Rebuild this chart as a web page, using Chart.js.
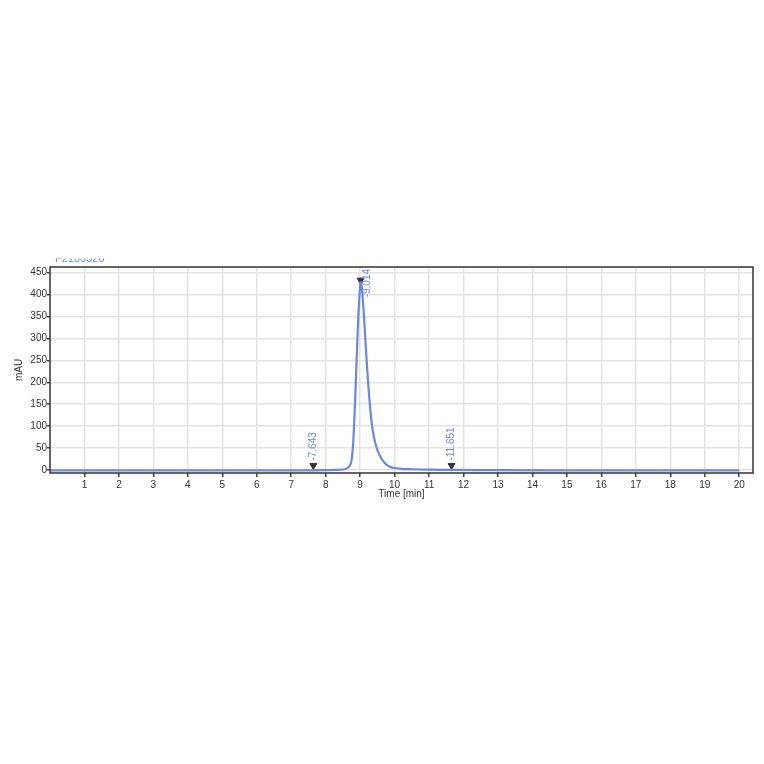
<!DOCTYPE html>
<html>
<head>
<meta charset="utf-8">
<script src="https://cdn.jsdelivr.net/npm/chart.js@4/dist/chart.umd.min.js"></script>
<style>
  html, body { margin: 0; padding: 0; background: #fff; }
  #wrap { width: 764px; height: 764px; }
</style>
</head>
<body>
<div id="wrap"><canvas id="chromChart"></canvas></div>
<script>
// chromatogram trace
var timeMin = [0, 2, 4, 6, 7, 7.643, 8.0, 8.3, 8.5, 8.6, 8.7, 8.75, 8.8, 8.85, 8.9, 8.95, 9.0, 9.014, 9.05, 9.1, 9.15, 9.2, 9.27, 9.35, 9.42, 9.48, 9.55, 9.64, 9.75, 9.85, 9.95, 10.2, 10.5, 11, 11.651, 13, 16, 20];
var signalMAU = [-1, -1, -1, -1, -1, -1, -0.5, 0, 1, 3, 10, 22, 65, 150, 255, 355, 422, 428, 415, 365, 300, 235, 160, 98, 68, 50, 36, 23, 13, 8, 5, 2.5, 1.5, 0.5, 0, -0.5, -1, -1];

// peak markers
var peakTimes = [7.643, 9.014, 11.651];
var peakMarkY = [10, 433, 10];
var peakLabels = ["7.643", "9.014", "11.651"];

var yTicks = [0, 50, 100, 150, 200, 250, 300, 350, 400, 450];
var xTicks = [1, 2, 3, 4, 5, 6, 7, 8, 9, 10, 11, 12, 13, 14, 15, 16, 17, 18, 19, 20];

var sampleName = "F2100320";
var traceColor = "#6b88e0";
var fontFam = "'Liberation Sans', Arial, sans-serif";

var trace = timeMin.map(function (t, i) { return { x: t, y: signalMAU[i] }; });
var marks = peakTimes.map(function (t, i) { return { x: t, y: peakMarkY[i] }; });

// frame, peak labels and the clipped sample name
var decorPlugin = {
    id: "decor",
    afterDraw: function (chart) {
        var ctx = chart.ctx;
        var area = chart.chartArea;
        var xs = chart.scales.x, ys = chart.scales.y;

        ctx.save();
        ctx.strokeStyle = "#333";
        ctx.lineWidth = 1.5;
        ctx.strokeRect(area.left, area.top, area.right - area.left, area.bottom - area.top);
        ctx.restore();

        ctx.save();
        ctx.font = "10px " + fontFam;
        ctx.fillStyle = traceColor;
        ctx.textBaseline = "middle";
        for (var i = 0; i < peakTimes.length; i++) {
            var px = xs.getPixelForValue(peakTimes[i]);
            var py = ys.getPixelForValue(peakMarkY[i]);
            var txt = "-" + peakLabels[i];
            var w = ctx.measureText(txt).width;
            var start = py - 5;
            if (start - w < area.top) {
                px += 7;
                start = area.top + 2 + w;
            }
            ctx.save();
            ctx.translate(px, start);
            ctx.rotate(-Math.PI / 2);
            ctx.textAlign = "left";
            ctx.fillText(txt, 0, 0);
            ctx.restore();
        }
        ctx.restore();

        ctx.save();
        ctx.beginPath();
        ctx.rect(0, 258.5, 764, 20);
        ctx.clip();
        ctx.font = "11px " + fontFam;
        ctx.fillStyle = traceColor;
        ctx.textBaseline = "alphabetic";
        ctx.fillText(sampleName, 55, 262);
        ctx.restore();
    }
};

var ctx = document.getElementById("chromChart").getContext("2d");
new Chart(ctx, {
    type: "line",
    data: {
        datasets: [{
            data: trace,
            borderColor: traceColor,
            borderWidth: 2.2,
            pointRadius: 0,
            tension: 0.3,
            fill: false
        }, {
            type: "scatter",
            data: marks,
            pointStyle: "triangle",
            rotation: 180,
            pointRadius: 4,
            backgroundColor: "#333",
            borderColor: "#333",
            borderWidth: 1
        }]
    },
    options: {
        responsive: true,
        maintainAspectRatio: false,
        animation: false,
        layout: { padding: { left: 8, top: 267, right: 11, bottom: 264 } },
        plugins: { legend: { display: false }, tooltip: { enabled: false } },
        scales: {
            x: {
                type: "linear",
                min: 0,
                max: 20.4,
                afterBuildTicks: function (s) { s.ticks = xTicks.map(function (v) { return { value: v }; }); },
                afterFit: function (s) { s.height = 27; },
                grid: { color: "#e3e3e3", lineWidth: 1.5, tickColor: "#444", tickLength: 4 },
                border: { display: false },
                ticks: { color: "#333", font: { size: 10, family: fontFam }, padding: 2, maxRotation: 0 },
                title: { display: true, text: "Time [min]", color: "#333", font: { size: 10, family: fontFam }, padding: { top: 0, bottom: 0 } }
            },
            y: {
                min: -7,
                max: 463,
                afterBuildTicks: function (s) { s.ticks = yTicks.map(function (v) { return { value: v }; }); },
                afterFit: function (s) { s.width = 42; },
                grid: { color: "#e3e3e3", lineWidth: 1.5, tickColor: "#444", tickLength: 3 },
                border: { display: false },
                ticks: { color: "#333", font: { size: 10, family: fontFam }, padding: 0 },
                title: { display: true, text: "mAU", color: "#333", font: { size: 10, family: fontFam }, padding: { top: 5, bottom: 0 } }
            }
        }
    },
    plugins: [decorPlugin]
});
</script>
</body>
</html>
